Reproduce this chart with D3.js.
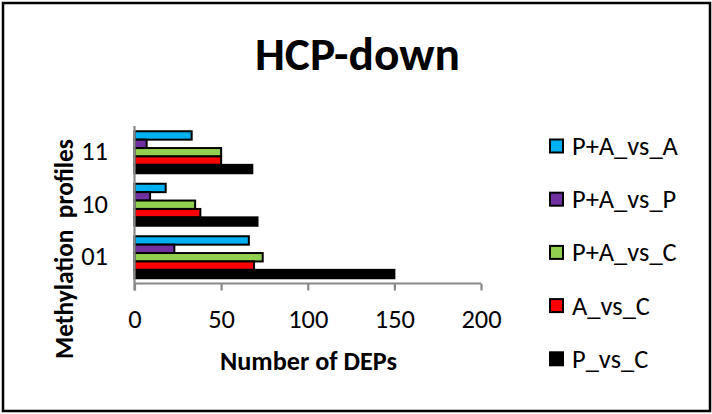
<!DOCTYPE html>
<html>
<head>
<meta charset="utf-8">
<script src="https://cdn.jsdelivr.net/npm/d3@7"></script>
<style>
  html, body { margin: 0; padding: 0; background: #fff; }
  svg { display: block; }
  text { font-family: Carlito, Lato, "Open Sans", sans-serif; fill: #000; }
</style>
</head>
<body>
<svg id="chart" width="712" height="414"></svg>
<script>
// ---- data ----
const categories = ["11", "10", "01"];
const seriesNames = ["P+A_vs_A", "P+A_vs_P", "P+A_vs_C", "A_vs_C", "P_vs_C"];
const seriesColors = ["#00B0F0", "#7030A0", "#92D050", "#FF0000", "#000000"];
const values_PA_vs_A = [33, 18, 66];
const values_PA_vs_P = [7, 9, 23];
const values_PA_vs_C = [50, 35, 74];
const values_A_vs_C = [50, 38, 69];
const values_P_vs_C = [68, 71, 150];
const xTicks = [0, 50, 100, 150, 200];

const seriesValues = [values_PA_vs_A, values_PA_vs_P, values_PA_vs_C, values_A_vs_C, values_P_vs_C];

const svg = d3.select("#chart");

// outer border
svg.append("rect").attr("x", 3).attr("y", 3).attr("width", 707).attr("height", 408)
  .attr("fill", "#fff").attr("stroke", "#000").attr("stroke-width", 2.5);

function fitWidth(sel, target) {
  const w = sel.node().getComputedTextLength();
  const fs = parseFloat(sel.attr("font-size"));
  sel.attr("font-size", fs * target / w);
}

// determine regular text size from the legend label width
const probe = svg.append("text").attr("font-size", 21).text("P+A_vs_A");
const FS = 21 * 106 / probe.node().getComputedTextLength();
probe.remove();

// title
const title = svg.append("text").attr("x", 357.5).attr("y", 70).attr("text-anchor", "middle")
  .attr("font-weight", "bold").attr("font-size", 40).text("HCP-down");
fitWidth(title, 205);

const x = d3.scaleLinear().domain([0, 200]).range([134.5, 481]);
const y0 = d3.scaleBand().domain(categories).range([126, 283.5]).paddingInner(0.2).paddingOuter(0.1);
const y1 = d3.scaleBand().domain(seriesNames).range([0, y0.bandwidth()]);

// bars
categories.forEach((cat, ci) => {
  const g = svg.append("g").attr("transform", `translate(0,${y0(cat)})`);
  seriesNames.forEach((s, si) => {
    g.append("rect")
      .attr("x", x(0))
      .attr("y", y1(s))
      .attr("width", x(seriesValues[si][ci]) - x(0))
      .attr("height", y1.bandwidth())
      .attr("fill", seriesColors[si])
      .attr("stroke", "#000").attr("stroke-width", 2);
  });
});

// x axis
const xAxis = svg.append("g").attr("transform", "translate(0,283.5)")
  .call(d3.axisBottom(x).tickValues(xTicks).tickSize(7).tickPadding(14).tickFormat(d3.format("d")));
xAxis.select(".domain").attr("stroke", "#888").attr("stroke-width", 2.2).attr("d", `M${x(0)},0H${x(200)}`);
xAxis.selectAll(".tick line").attr("stroke", "#888").attr("stroke-width", 2.2);
xAxis.selectAll(".tick text").attr("font-size", FS).style("font-family", "Carlito, Lato, 'Open Sans', sans-serif")
  .attr("fill", "#000").attr("dy", null).attr("y", 44);

// y axis line
svg.append("line").attr("x1", x(0)).attr("x2", x(0)).attr("y1", 126).attr("y2", 290.5)
  .attr("stroke", "#888").attr("stroke-width", 2.2);

// category labels
svg.append("g").selectAll("text").data(categories).join("text")
  .attr("x", 108).attr("y", d => y0(d) + y0.bandwidth() / 2 + 8)
  .attr("text-anchor", "end").attr("font-size", FS).text(d => d);

// axis titles
const xt = svg.append("text").attr("x", 308.5).attr("y", 370).attr("text-anchor", "middle")
  .attr("font-weight", "bold").attr("font-size", 20).text("Number of DEPs");
fitWidth(xt, 177);

const yt = svg.append("text").attr("transform", "translate(73,249) rotate(-90)")
  .attr("text-anchor", "middle").attr("font-weight", "bold").attr("font-size", 20)
  .attr("xml:space", "preserve").style("white-space", "pre").text("Methylation  profiles");
fitWidth(yt, 220);

// legend
const legend = svg.append("g");
seriesNames.forEach((s, i) => {
  const cy = 146 + i * 53.2;
  legend.append("rect").attr("x", 550).attr("y", cy - 6.5).attr("width", 13).attr("height", 13)
    .attr("fill", seriesColors[i]).attr("stroke", "#000").attr("stroke-width", 2);
  legend.append("text").attr("x", 572).attr("y", cy + 9).attr("font-size", FS).text(s);
});
</script>
</body>
</html>
